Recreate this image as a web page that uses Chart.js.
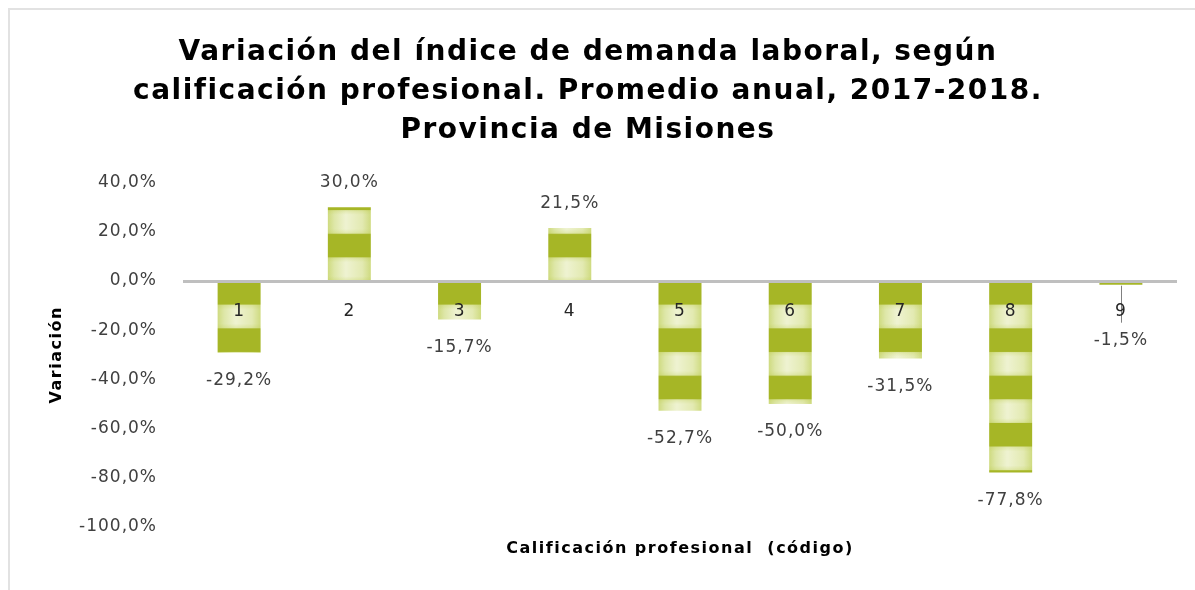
<!DOCTYPE html>
<html><head><meta charset="utf-8">
<script src="https://cdn.jsdelivr.net/npm/chart.js@4.4.1/dist/chart.umd.min.js"></script>
<style>
html,body{margin:0;padding:0;background:#fff;}
#frame{position:absolute;left:8px;top:8px;width:1187px;height:582px;border-left:2px solid #e2e2e2;border-top:2px solid #e2e2e2;box-sizing:border-box;}
#wrap{position:absolute;left:0;top:0;width:1195px;height:590px;}
</style></head><body>
<div id="frame"></div>
<div id="wrap"><canvas id="c" width="1195" height="590"></canvas></div>
<script>
const categories = ['1','2','3','4','5','6','7','8','9'];
const values = [-29.2, 30.0, -15.7, 21.5, -52.7, -50.0, -31.5, -77.8, -1.5];
const yMin = -100, yMax = 40, yStep = 20;
const titleLines = ['Variación del índice de demanda laboral, según',
                    'calificación profesional. Promedio anual, 2017-2018.',
                    'Provincia de Misiones'];
const yTitle = 'Variación';
const xTitle = 'Calificación profesional  (código)';

const FONT = '"DejaVu Sans", sans-serif';
const BAND = 47.3;
const BAR_PCT = 0.39;
const fmt = v => v.toFixed(1).replace('.', ',') + '%';

const patCache = {};
function stripeFill(context) {
  const chart = context.chart;
  const xs = chart.scales && chart.scales.x, ys = chart.scales && chart.scales.y;
  if (!xs || !ys || context.type !== 'data' || !chart.chartArea) return '#A6B626';
  const i = context.dataIndex;
  const cx = xs.getPixelForValue(i);
  const wExact = xs.width / categories.length * BAR_PCT;
  const w = Math.ceil(wExact);
  const left = cx - wExact / 2;
  const zero = ys.getPixelForValue(0);
  const key = i + '|' + left.toFixed(2) + '|' + zero.toFixed(2) + '|' + w;
  if (patCache[key]) return patCache[key];
  const H = chart.height;
  const cv = document.createElement('canvas');
  cv.width = w; cv.height = H;
  const g = cv.getContext('2d');
  const lg = g.createLinearGradient(0, 0, w, 0);
  lg.addColorStop(0, '#CFDB80');
  lg.addColorStop(0.15, '#DEE7A8');
  lg.addColorStop(0.42, '#EFF3D2');
  lg.addColorStop(0.8, '#E3EAB2');
  lg.addColorStop(1, '#CFDB80');
  g.fillStyle = lg;
  g.fillRect(0, 0, w, H);
  const half = BAND / 2;
  for (let k = -20; k <= 20; k++) {
    const y0 = zero + k * BAND;
    const ly = y0 + half;
    const vg = g.createLinearGradient(0, ly, 0, ly + half);
    vg.addColorStop(0, 'rgba(190,205,80,0.3)');
    vg.addColorStop(0.2, 'rgba(190,205,80,0)');
    vg.addColorStop(0.8, 'rgba(190,205,80,0)');
    vg.addColorStop(1, 'rgba(190,205,80,0.3)');
    g.fillStyle = vg;
    g.fillRect(0, ly, w, half);
    g.fillStyle = '#A6B626';
    g.fillRect(0, y0, w, half);
  }
  const p = chart.ctx.createPattern(cv, 'repeat');
  p.setTransform(new DOMMatrix([1, 0, 0, 1, left, 0]));
  patCache[key] = p;
  return p;
}

const spacingPlugin = {
  id: 'spacing',
  beforeDraw(chart) { chart.ctx.letterSpacing = '1.5px'; },
  beforeDatasetsDraw(chart) { chart.ctx.letterSpacing = '1px'; }
};

const valueLabels = {
  id: 'valueLabels',
  afterDatasetsDraw(chart) {
    const ctx = chart.ctx;
    const meta = chart.getDatasetMeta(0);
    ctx.save();
    ctx.font = '17px ' + FONT;
    ctx.fillStyle = '#404040';
    ctx.textAlign = 'center';
    ctx.textBaseline = 'middle';
    meta.data.forEach((bar, i) => {
      const v = values[i];
      const len = Math.abs(bar.base - bar.y);
      const dir = v >= 0 ? -1 : 1;
      let off = v >= 0 ? 25 : 28;
      if (len < 12) {
        off = 56;
        ctx.save();
        ctx.strokeStyle = '#808080';
        ctx.lineWidth = 1;
        ctx.beginPath();
        ctx.moveTo(Math.round(bar.x) + 0.5, bar.y + 1);
        ctx.lineTo(Math.round(bar.x) + 0.5, bar.y + 38);
        ctx.stroke();
        ctx.restore();
      }
      ctx.fillText(fmt(v), bar.x, bar.y + dir * off);
    });
    ctx.restore();
  }
};

new Chart(document.getElementById('c'), {
  type: 'bar',
  data: {
    labels: categories,
    datasets: [{
      data: values,
      backgroundColor: stripeFill,
      borderWidth: 0,
      barPercentage: BAR_PCT,
      categoryPercentage: 1,
      xAxisID: 'x',
      yAxisID: 'y'
    }]
  },
  options: {
    responsive: false,
    animation: false,
    events: [],
    layout: { padding: { left: 0, right: 19, top: 0, bottom: 0 } },
    plugins: {
      legend: { display: false },
      tooltip: { enabled: false },
      title: {
        display: true,
        text: titleLines,
        color: '#000',
        font: { family: FONT, size: 28, weight: 'bold', lineHeight: 1.4 },
        padding: { top: 33, bottom: 32 }
      }
    },
    scales: {
      y: {
        min: yMin, max: yMax,
        ticks: { stepSize: yStep, callback: v => fmt(v), font: { family: FONT, size: 17 }, color: '#404040', padding: 27, z: 1 },
        grid: { display: false, drawTicks: false },
        border: { display: false },
        title: { display: true, text: yTitle, color: '#000', font: { family: FONT, size: 16, weight: 'bold' }, padding: { top: 47, bottom: 0 } },
        afterFit(s) { s.width = 184; }
      },
      x: {
        type: 'category', axis: 'x', position: { y: 0 },
        grid: { display: false, drawTicks: false },
        border: { display: true, color: '#BFBFBF', width: 3, z: 1 },
        ticks: { font: { family: FONT, size: 17 }, color: '#262626', padding: 20, z: 2, autoSkip: false, maxRotation: 0 }
      },
      x2: {
        type: 'category', axis: 'x', position: 'bottom',
        grid: { display: false, drawTicks: false },
        border: { display: false },
        ticks: { display: false },
        title: { display: true, text: xTitle, color: '#000', font: { family: FONT, size: 16, weight: 'bold' }, padding: { top: 0, bottom: 32 } },
        afterFit(s) { s.height = 63; }
      }
    }
  },
  plugins: [spacingPlugin, valueLabels]
});
</script>
</body></html>
